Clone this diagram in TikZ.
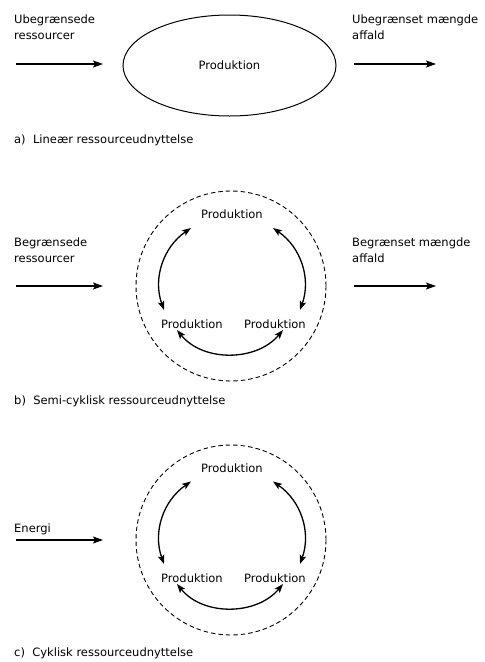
\documentclass[tikz,border=0pt]{standalone}
\usepackage{fontspec}
\setmainfont{DejaVu Sans}
\usepackage{tikz}
\usetikzlibrary{positioning,shapes.geometric,arrows.meta}
\usetikzlibrary{calc}
\tikzstyle{arrow} = [->,>={Stealth[length=10pt,width=7pt,inset=2pt]},line width=1.3pt]
\tikzstyle{cycarrow} = [<->,>={Stealth[length=9pt,width=6.5pt,inset=2pt]},line width=1.3pt]
\tikzstyle{txt} = [font=\fontsize{11.5}{15.5}\selectfont,align=left,anchor=base west,inner sep=0pt]
\tikzstyle{prod} = [font=\fontsize{11.5}{15.5}\selectfont,inner sep=0pt]
\tikzstyle{ring} = [circle,draw,dash pattern=on 4.5pt off 3pt,line width=0.9pt,minimum size=190pt,inner sep=0pt]

\begin{document}
\begin{tikzpicture}[x=1pt,y=1pt]
    \useasboundingbox (0,0) rectangle (485,-662);

    % a) lineaer
    \node (prodA) at (229.5,-65.5) [ellipse,draw,line width=1pt,minimum width=213pt,minimum height=101pt,prod] {Produktion};
    \node (inTxtA) at (14,-39) [txt] {Ubegrænsede\\ressourcer};
    \node (outTxtA) at (352,-39) [txt] {Ubegrænset mængde\\affald};
    \coordinate (inA1) at (16,-64);
    \coordinate (inA2) at (103,-64);
    \coordinate (outA1) at (354,-64);
    \coordinate (outA2) at (436,-64);
    \draw[arrow] (inA1) -- (inA2);
    \draw[arrow] (outA1) -- (outA2);
    \node (capA) at (14,-143) [txt] {a)~~Lineær ressourceudnyttelse};

    % b) semi-cyklisk
    \node (ringB) at (231,-286) [ring] {};
    \node (topB) at ($(ringB)+(1,71.5)$) [prod] {Produktion};
    \node (leftB) at ($(ringB)+(-39,-38.5)$) [prod] {Produktion};
    \node (rightB) at ($(ringB)+(44,-38.5)$) [prod] {Produktion};
    \draw[cycarrow] ([shift={(-41,-13.5)}]topB.center) to[out=214.6,in=109.7] ([shift={(-28,14.5)}]leftB.center);
    \draw[cycarrow] ([shift={(41,-13.5)}]topB.center) to[out=-34.6,in=70.3] ([shift={(25,14.5)}]rightB.center);
    \draw[cycarrow] ([shift={(-15,-5.5)}]leftB.center) to[out=-51,in=230] ([shift={(8,-5.5)}]rightB.center);
    \node (inTxtB) at (14,-262) [txt] {Begrænsede\\ressourcer};
    \node (outTxtB) at (352,-262) [txt] {Begrænset mængde\\affald};
    \coordinate (inB1) at (16,-286);
    \coordinate (inB2) at (103,-286);
    \coordinate (outB1) at (354,-286);
    \coordinate (outB2) at (436,-286);
    \draw[arrow] (inB1) -- (inB2);
    \draw[arrow] (outB1) -- (outB2);
    \node (capB) at (14,-404) [txt] {b)~~Semi-cyklisk ressourceudnyttelse};

    % c) cyklisk
    \node (ringC) at (231,-540) [ring] {};
    \node (topC) at ($(ringC)+(1,72)$) [prod] {Produktion};
    \node (leftC) at ($(ringC)+(-39,-38.5)$) [prod] {Produktion};
    \node (rightC) at ($(ringC)+(44,-38.5)$) [prod] {Produktion};
    \draw[cycarrow] ([shift={(-41,-13.5)}]topC.center) to[out=214.6,in=109.7] ([shift={(-28,14.5)}]leftC.center);
    \draw[cycarrow] ([shift={(41,-13.5)}]topC.center) to[out=-34.6,in=70.3] ([shift={(25,14.5)}]rightC.center);
    \draw[cycarrow] ([shift={(-15,-5.5)}]leftC.center) to[out=-51,in=230] ([shift={(8,-5.5)}]rightC.center);
    \node (inTxtC) at (14,-532) [txt] {Energi};
    \coordinate (inC1) at (16,-540);
    \coordinate (inC2) at (103,-540);
    \draw[arrow] (inC1) -- (inC2);
    \node (capC) at (14,-656) [txt] {c)~~Cyklisk ressourceudnyttelse};

\end{tikzpicture}
\end{document}
